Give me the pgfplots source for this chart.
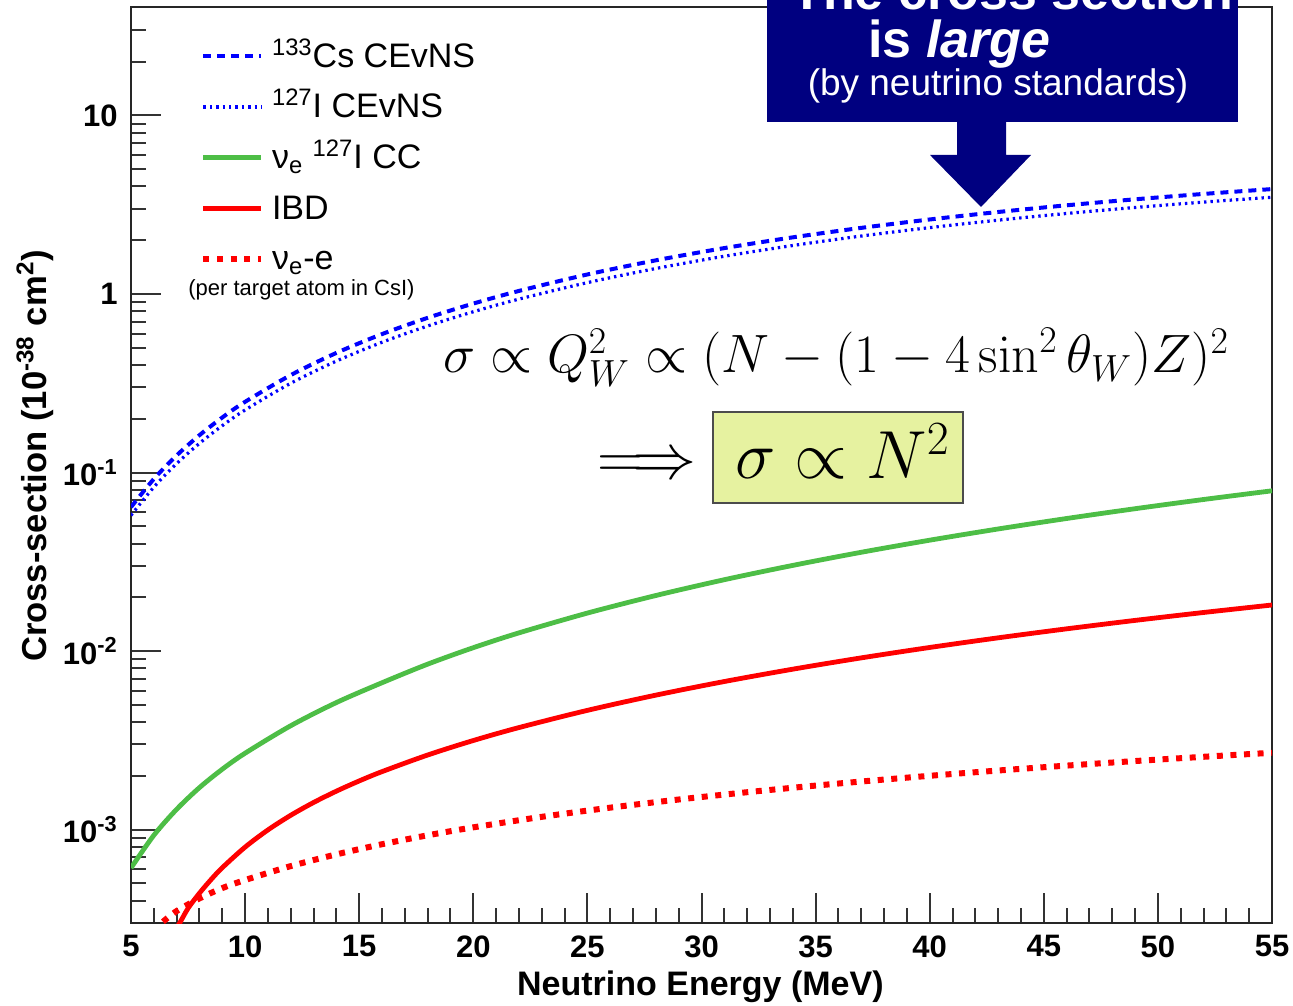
\RequirePackage{fix-cm}
\documentclass[border=0pt]{standalone}
\usepackage[no-math]{fontspec}
\setmainfont{Liberation Sans}
\usepackage{pgfplots}
\pgfplotsset{compat=1.18}
\definecolor{rootgreen}{RGB}{77,190,70}
\definecolor{navyblue}{RGB}{0,0,128}
\definecolor{boxyellow}{RGB}{230,242,160}
\begin{document}
\begin{tikzpicture}
\useasboundingbox (0,0) rectangle (646.5pt,502.5pt);
\begin{axis}[
  at={(65.5pt,41pt)}, anchor=south west,
  scale only axis, width=570.5pt, height=458pt,
  ymode=log, xmin=5, xmax=55, ymin=3e-4, ymax=40.5,
  axis line style={line width=1.2pt, black!85},
  tick pos=left,
  tick style={line width=1pt, black!80},
  major tick length=15pt, minor tick length=7.5pt,
  xtick={5,10,15,20,25,30,35,40,45,50,55}, minor x tick num=4,
  xticklabels={5,10,15,20,25,30,35,40,45,50,55},
  ytick={1e-3,1e-2,1e-1,1,10},
  yticklabels={10\textsuperscript{-3},10\textsuperscript{-2},10\textsuperscript{-1},1,10},
  minor ytick={4e-4,5e-4,6e-4,7e-4,8e-4,9e-4,2e-3,3e-3,4e-3,5e-3,6e-3,7e-3,8e-3,9e-3,2e-2,3e-2,4e-2,5e-2,6e-2,7e-2,8e-2,9e-2,0.2,0.3,0.4,0.5,0.6,0.7,0.8,0.9,2,3,4,5,6,7,8,9,20,30},
  ticklabel style={font=\fontsize{15.5}{18}\selectfont\bfseries},
  xticklabel style={inner sep=0pt, yshift=-6pt, anchor=north},
  yticklabel style={inner sep=0pt, xshift=-6.5pt, anchor=east},
  legend cell align=left,
  legend image code/.code={\draw[#1] (0pt,1.5pt) -- (29pt,1.5pt);},
  legend style={at={(axis description cs:0.0605,0.9618)}, anchor=north west,
    draw=none, fill=none, inner sep=0pt, row sep=8.3pt,
    font=\fontsize{17}{20}\selectfont,
    nodes={inner sep=0pt, text height=12.5pt, text depth=4.5pt},
    /tikz/every odd column/.append style={column sep=3.8pt}},
]
\addplot[blue, line width=2pt, dash pattern=on 4pt off 3pt, smooth] coordinates {
(5,0.064) (6,0.09201) (7,0.12472) (8,0.16191) (9,0.20339) (10,0.24894) (12,0.35141) (14,0.46775) (16,0.5962) (18,0.73543) (20,0.88384) (22,1.0402) (25,1.2865) (28,1.5437) (31,1.808) (34,2.0765) (37,2.3462) (40,2.6145) (43,2.8794) (46,3.1386) (49,3.3914) (52,3.6352) (55,3.8695)};
\addlegendentry{\textsuperscript{133}Cs CEvNS}
\addplot[blue, line width=1.6pt, dash pattern=on 1.2pt off 2pt, smooth] coordinates {
(5,0.0576) (6,0.08281) (7,0.11225) (8,0.14572) (9,0.18305) (10,0.22405) (12,0.31627) (14,0.42098) (16,0.53658) (18,0.66189) (20,0.79546) (22,0.93618) (25,1.1579) (28,1.3893) (31,1.6272) (34,1.8689) (37,2.1116) (40,2.3531) (43,2.5915) (46,2.8247) (49,3.0523) (52,3.2717) (55,3.4826)};
\addlegendentry{\textsuperscript{127}I CEvNS}
\addplot[rootgreen, line width=2.4pt, smooth] coordinates {
(5,6.1e-4) (6,9.3e-4) (7,1.3e-3) (8,1.72e-3) (9,2.18e-3) (10,2.68e-3) (12,3.82e-3) (14,5.15e-3) (16,6.65e-3) (18,8.45e-3) (20,1.045e-2) (22,1.265e-2) (25,1.633e-2) (28,2.048e-2) (31,2.511e-2) (34,3.02e-2) (37,3.577e-2) (40,4.18e-2) (43,4.831e-2) (46,5.529e-2) (49,6.273e-2) (52,7.065e-2) (55,7.904e-2)};
\addlegendentry{ν\textsubscript{e} \textsuperscript{127}I CC}
\addplot[red, line width=2.4pt, smooth] coordinates {
(6.9,2.75e-4) (7.1,2.95e-4) (7.5,3.627e-4) (8,4.408e-4) (8.5,5.239e-4) (9,6.122e-4) (10,7.985e-4) (11,9.963e-4) (12,1.2036e-3) (13,1.4193e-3) (14,1.6428e-3) (15,1.8743e-3) (16,2.1135e-3) (18,2.618e-3) (20,3.1567e-3) (22,3.730e-3) (25,4.657e-3) (28,5.667e-3) (31,6.755e-3) (34,7.921e-3) (37,9.163e-3) (40,1.0479e-2) (43,1.1867e-2) (46,1.3325e-2) (49,1.4857e-2) (52,1.6454e-2) (55,1.8121e-2)};
\addlegendentry{IBD}
\addplot[red, line width=3pt, dash pattern=on 3pt off 3.8pt, smooth] coordinates {
(6.4,3.05e-4) (7,3.5e-4) (8,4.12e-4) (9,4.706e-4) (10,5.221e-4) (12,6.248e-4) (14,7.27e-4) (16,8.286e-4) (18,9.296e-4) (20,1.03e-3) (23,1.1796e-3) (26,1.3279e-3) (29,1.4749e-3) (32,1.6206e-3) (35,1.765e-3) (38,1.908e-3) (41,2.05e-3) (44,2.1906e-3) (47,2.33e-3) (50,2.468e-3) (53,2.6044e-3) (55,2.695e-3)};
\addlegendentry{ν\textsubscript{e}-e}
\end{axis}
\begin{scope}[x=0.5pt,y=-0.5pt,shift={(0pt,502.5pt)}]
\node[rotate=90, anchor=base, inner sep=0pt, font=\fontsize{17.3}{20}\selectfont\bfseries] at (46,456) {Cross-section (10\textsuperscript{-38} cm\textsuperscript{2})};
\node[anchor=base east, inner sep=0pt, font=\fontsize{17}{20}\selectfont\bfseries] at (884,995) {Neutrino Energy (MeV)};
\node[anchor=base west, inner sep=0pt, font=\fontsize{11}{13}\selectfont] at (188,296) {(per target atom in CsI)};
\node[anchor=base, inner sep=0pt, font=\fontsize{27}{32}\selectfont] at (836,373) {$\sigma \propto Q_W^2 \propto (N-(1-4\sin^2\theta_W)Z)^2$};
\node[anchor=base, inner sep=0pt, font=\fontsize{32}{38}\selectfont] at (647,479) {$\Longrightarrow$};
\draw[fill=boxyellow, draw=black!70, line width=0.8pt] (713,412) rectangle (963,503);
\node[anchor=base west, inner sep=0pt, font=\fontsize{34}{40}\selectfont] at (735,479) {$\sigma \propto N^2$};
\fill[navyblue] (767,-60) rectangle (1238,122);
\fill[navyblue] (957,121) -- (1006,121) -- (1006,155) -- (1031,155) -- (981,207) -- (930,155) -- (957,155) -- cycle;
\node[anchor=base west, inner sep=0pt, text=white, font=\fontsize{26}{30}\selectfont\bfseries] at (791,10) {The cross section};
\node[anchor=base west, inner sep=0pt, text=white, font=\fontsize{26}{30}\selectfont\bfseries] at (868,58) {is \textit{large}};
\node[anchor=base, inner sep=0pt, text=white, font=\fontsize{18.5}{22}\selectfont] at (998,96) {(by neutrino standards)};
\end{scope}
\end{tikzpicture}
\end{document}
